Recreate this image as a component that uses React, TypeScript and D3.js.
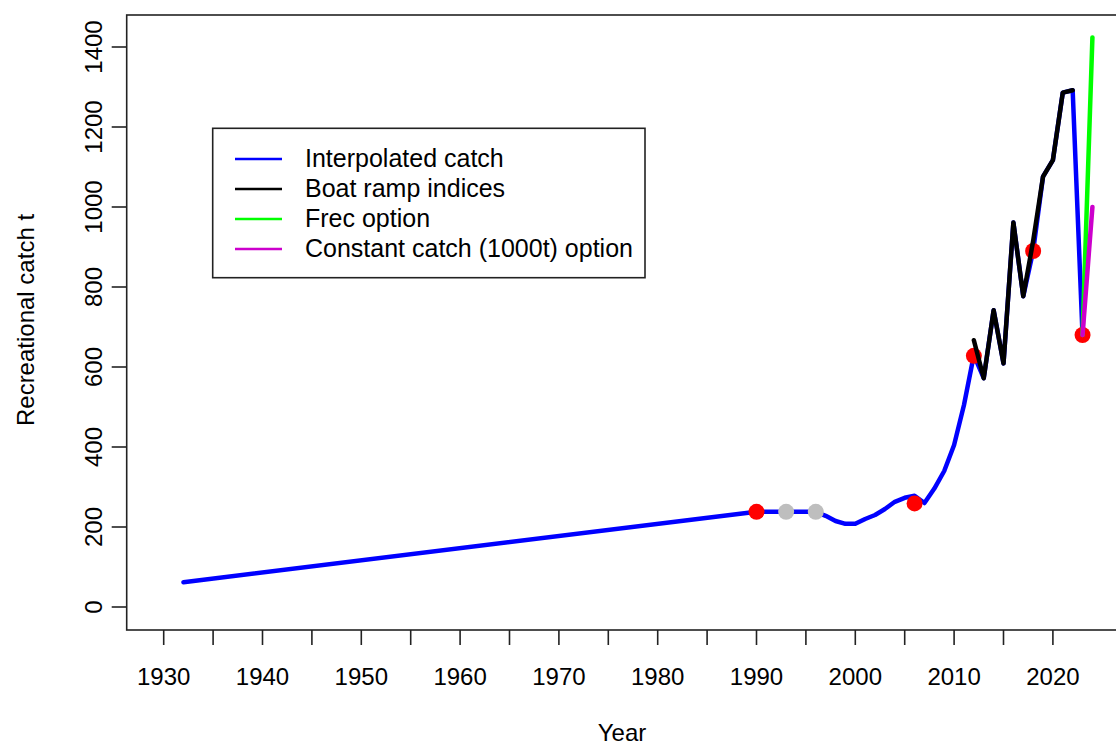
import React from "react";
import * as d3 from "d3";

// ---- data ----
const interpYears = [1932, 1990, 1991, 1992, 1993, 1994, 1995, 1996, 1997, 1998, 1999, 2000, 2001, 2002, 2003, 2004, 2005, 2006, 2007, 2008, 2009, 2010, 2011, 2012, 2013, 2014, 2015, 2016, 2017, 2018, 2019, 2020, 2021, 2022, 2023];
const interpCatch = [62, 238, 238, 238, 238, 238, 238, 238, 228, 215, 208, 208, 220, 230, 245, 263, 273, 278, 260, 296, 340, 405, 505, 630, 572, 742, 609, 961, 777, 890, 1076, 1117, 1286, 1292, 680];

const rampYears = [2012, 2013, 2014, 2015, 2016, 2017, 2018, 2019, 2020, 2021, 2022];
const rampCatch = [667, 572, 742, 609, 961, 777, 915, 1076, 1117, 1286, 1292];

const frecYears = [2023, 2024];
const frecCatch = [680, 1424];

const constYears = [2023, 2024];
const constCatch = [680, 1000];

const surveyYears = [1990, 2006, 2012, 2018, 2023];
const surveyCatch = [238, 259, 628, 890, 680];

const greyYears = [1993, 1996];
const greyCatch = [238, 238];

const xTicks = [1930, 1940, 1950, 1960, 1970, 1980, 1990, 2000, 2010, 2020];
const xMinorTicks = [1935, 1945, 1955, 1965, 1975, 1985, 1995, 2005, 2015];
const yTicks = [0, 200, 400, 600, 800, 1000, 1200, 1400];

const legendLabels = ["Interpolated catch", "Boat ramp indices", "Frec option", "Constant catch (1000t) option"];
const legendColors = ["#0000FF", "#000000", "#00FF00", "#CC00CC"];

const FONT = "'Liberation Sans', Arial, Helvetica, sans-serif";

export default function App() {
  const W = 1116, H = 745;
  const x = d3.scaleLinear().domain([1930, 2020]).range([163.7, 1052.9]);
  const y = d3.scaleLinear().domain([0, 1400]).range([607, 47]);
  const box = { l: 126.7, r: 1125, t: 15, b: 630 };

  const line = d3.line<[number, number]>().x(d => x(d[0])).y(d => y(d[1]));
  const pts = (ys: number[], vs: number[]) => ys.map((yr, i) => [yr, vs[i]] as [number, number]);

  const lw = 4.5;

  return (
    <svg width={W} height={H} style={{ position: "absolute", left: 0, top: 0, background: "#fff" }} fontFamily={FONT}>
      <rect x={0} y={0} width={W} height={H} fill="#fff" />
      {/* series */}
      <path d={line(pts(interpYears, interpCatch)) || ""} fill="none" stroke="#0000FF" strokeWidth={lw} strokeLinejoin="round" strokeLinecap="round" />
      {surveyYears.map((yr, i) => (
        <circle key={"s" + i} cx={x(yr)} cy={y(surveyCatch[i])} r={8} fill="#FF0000" />
      ))}
      {greyYears.map((yr, i) => (
        <circle key={"g" + i} cx={x(yr)} cy={y(greyCatch[i])} r={8} fill="#BEBEBE" />
      ))}
      <path d={line(pts(rampYears, rampCatch)) || ""} fill="none" stroke="#000000" strokeWidth={lw} strokeLinejoin="round" strokeLinecap="round" />
      <path d={line(pts(frecYears, frecCatch)) || ""} fill="none" stroke="#00FF00" strokeWidth={lw} strokeLinejoin="round" strokeLinecap="round" />
      <path d={line(pts(constYears, constCatch)) || ""} fill="none" stroke="#CC00CC" strokeWidth={lw} strokeLinejoin="round" strokeLinecap="round" />

      {/* frame */}
      <rect x={box.l} y={box.t} width={box.r - box.l} height={box.b - box.t} fill="none" stroke="#222" strokeWidth={1.6} />

      {/* x axis */}
      {xTicks.map(t => (
        <g key={"xt" + t}>
          <line x1={x(t)} x2={x(t)} y1={box.b} y2={box.b + 15} stroke="#222" strokeWidth={1.6} />
          <text x={x(t)} y={685} fontSize={24} textAnchor="middle" fill="#000">{t}</text>
        </g>
      ))}
      {xMinorTicks.map(t => (
        <line key={"xm" + t} x1={x(t)} x2={x(t)} y1={box.b} y2={box.b + 15} stroke="#222" strokeWidth={1.6} />
      ))}
      <text x={622} y={741} fontSize={24} textAnchor="middle" fill="#000">Year</text>

      {/* y axis */}
      {yTicks.map(t => (
        <g key={"yt" + t}>
          <line x1={box.l - 15} x2={box.l} y1={y(t)} y2={y(t)} stroke="#222" strokeWidth={1.6} />
          <text transform={`translate(102,${y(t)}) rotate(-90)`} fontSize={24} textAnchor="middle" fill="#000">{t}</text>
        </g>
      ))}
      <text transform={`translate(34,320) rotate(-90)`} fontSize={24} textAnchor="middle" fill="#000">Recreational catch t</text>

      {/* legend */}
      <rect x={212.7} y={128.3} width={645 - 212.7} height={277.7 - 128.3} fill="#fff" stroke="#222" strokeWidth={1.6} />
      {legendLabels.map((lab, i) => (
        <g key={"lg" + i}>
          <line x1={235} x2={282} y1={159 + i * 30} y2={159 + i * 30} stroke={legendColors[i]} strokeWidth={2.5} />
          <text x={305} y={159 + i * 30 + 8} fontSize={25} fill="#000">{lab}</text>
        </g>
      ))}
    </svg>
  );
}
